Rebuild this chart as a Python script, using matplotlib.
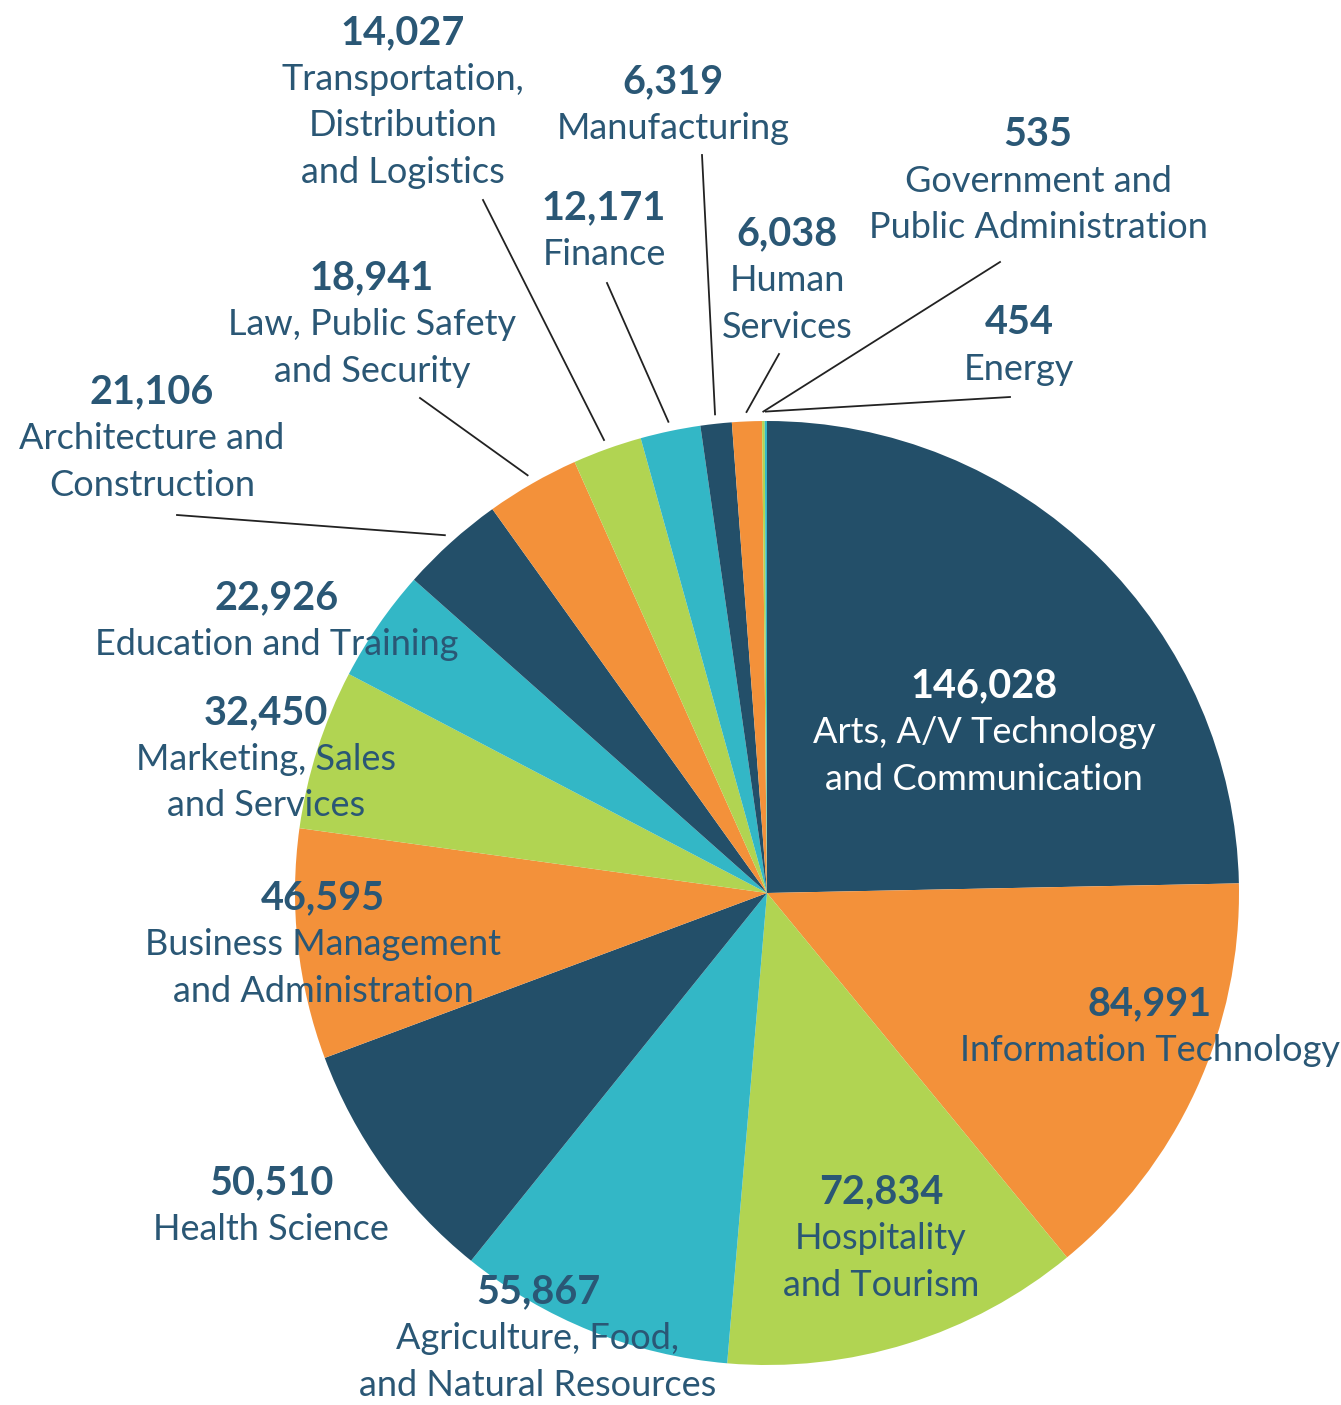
import matplotlib.pyplot as plt
import numpy as np

# slices, clockwise from 12 o'clock
values = [146028, 84991, 72834, 55867, 50510, 46595, 32450, 22926,
          21106, 18941, 14027, 12171, 6319, 6038, 535, 454]
names = [
    ["Arts, A/V Technology", "and Communication"],
    ["Information Technology"],
    ["Hospitality", "and Tourism"],
    ["Agriculture, Food,", "and Natural Resources"],
    ["Health Science"],
    ["Business Management", "and Administration"],
    ["Marketing, Sales", "and Services"],
    ["Education and Training"],
    ["Architecture and", "Construction"],
    ["Law, Public Safety", "and Security"],
    ["Transportation,", "Distribution", "and Logistics"],
    ["Finance"],
    ["Manufacturing"],
    ["Human", "Services"],
    ["Government and", "Public Administration"],
    ["Energy"],
]
palette = ["#234f69", "#f3913a", "#b1d452", "#33b7c6"]

W, H = 1341, 1405
NAVY = "#2a5775"

# label layout in pixel coords (x centre, y of value line), plus leader start
label_pos = [(984, 686), (1150, 1004), (881, 1192), (538, 1292), (271, 1183),
             (323, 898), (266, 713), (277, 598), (152, 392), (372, 278),
             (403, 33), (604, 208), (673, 82), (787, 234), (1038, 135), (1019, 323)]
leader_from = {8: (177, 515), 9: (420, 398), 10: (483, 200), 11: (607, 283),
               12: (702, 155), 13: (779, 354), 14: (1000, 262), 15: (1010, 397)}

plt.rcParams['font.family'] = ['Lato', 'DejaVu Sans']

fig = plt.figure(figsize=(W / 100, H / 100), dpi=100)
ax = fig.add_axes([0, 0, 1, 1])

cx, cy, R = 767, H - 893, 472
colors = [palette[i % 4] for i in range(len(values))]
wedges, _ = ax.pie(values, colors=colors, startangle=90, counterclock=False,
                   center=(cx, cy), radius=R, wedgeprops=dict(linewidth=0))

ax.set_xlim(0, W)
ax.set_ylim(0, H)
ax.set_aspect('equal')
ax.axis('off')

step = 46.5
for i, (v, lines) in enumerate(zip(values, names)):
    x, y = label_pos[i]
    col = 'white' if i == 0 else NAVY
    ax.text(x, H - y, f"{v:,}", ha='center', va='center', fontsize=28.5,
            fontweight='bold', color=col, zorder=5)
    for k, ln in enumerate(lines):
        ax.text(x, H - (y + step * (k + 1)), ln, ha='center', va='center',
                fontsize=26, color=col, zorder=5)

# leader lines to the small slices
for i, (lx, ly) in leader_from.items():
    w = wedges[i]
    mid = np.deg2rad((w.theta1 + w.theta2) / 2)
    ex, ey = cx + R * 1.02 * np.cos(mid), cy + R * 1.02 * np.sin(mid)
    ax.plot([lx, ex], [H - ly, ey], color='#222222', lw=1.3, zorder=4)

fig.savefig('out.png', dpi=100)
